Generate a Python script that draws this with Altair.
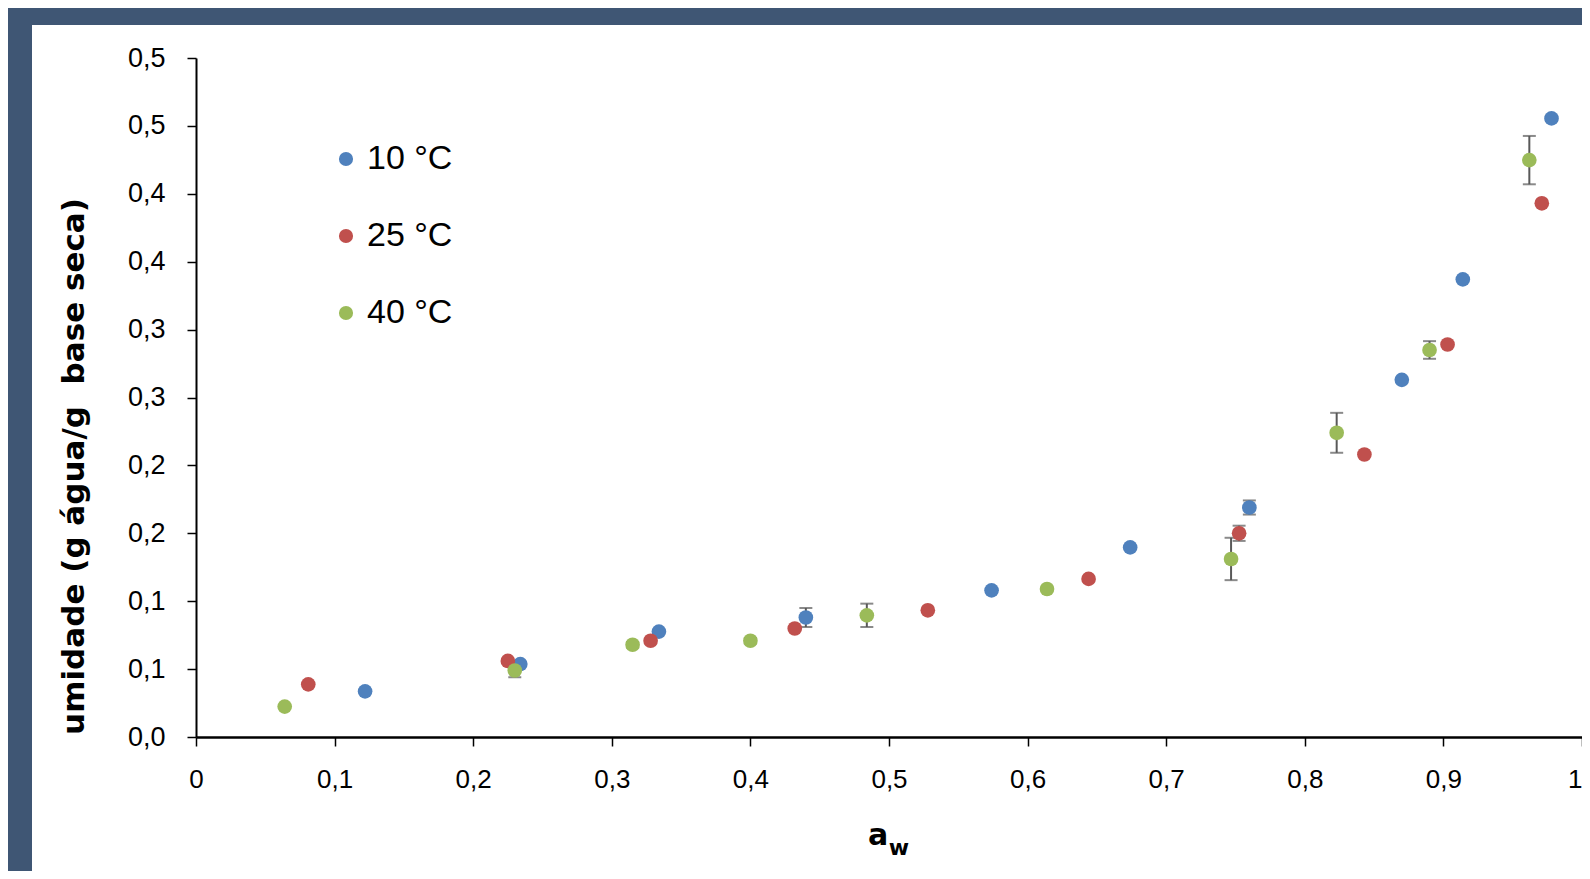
import altair as alt
import pandas as pd

series = ["10 °C", "25 °C", "40 °C"]
colors = ["#4F81BD", "#C0504D", "#9BBB59"]

aw_10 = [0.122, 0.234, 0.334, 0.440, 0.574, 0.674, 0.760, 0.870, 0.914, 0.978]
u_10 = [0.0336, 0.0537, 0.0776, 0.088, 0.108, 0.1396, 0.169, 0.263, 0.337, 0.4555]
err_10 = [0, 0, 0, 0.007, 0, 0, 0.0052, 0, 0, 0.002]

aw_25 = [0.081, 0.225, 0.328, 0.432, 0.528, 0.644, 0.7526, 0.843, 0.903, 0.971]
u_25 = [0.0388, 0.056, 0.0709, 0.0799, 0.0933, 0.1164, 0.150, 0.208, 0.289, 0.393]
err_25 = [0, 0, 0, 0, 0, 0, 0.0056, 0, 0, 0]

aw_40 = [0.064, 0.230, 0.315, 0.400, 0.484, 0.614, 0.7468, 0.823, 0.890, 0.962]
u_40 = [0.0224, 0.049, 0.0679, 0.0709, 0.0896, 0.109, 0.1311, 0.224, 0.285, 0.4248]
err_40 = [0, 0.005, 0.002, 0.002, 0.0086, 0, 0.0156, 0.0147, 0.0065, 0.0178]

x_ticks = [0, 0.1, 0.2, 0.3, 0.4, 0.5, 0.6, 0.7, 0.8, 0.9, 1]
y_ticks = [0, 0.05, 0.1, 0.15, 0.2, 0.25, 0.3, 0.35, 0.4, 0.45, 0.5]

rows = []
for name, xs, ys, es in [(series[0], aw_10, u_10, err_10),
                         (series[1], aw_25, u_25, err_25),
                         (series[2], aw_40, u_40, err_40)]:
    for x, y, e in zip(xs, ys, es):
        rows.append({"serie": name, "aw": x, "u": y, "lo": y - e, "hi": y + e, "e": e})
df = pd.DataFrame(rows)
df_err = df[df["e"] > 0]

W, H = 1386, 679
PAD_L, PAD_T = 188, 50
SVG_W, SVG_H = 1574, 863

xscale = alt.Scale(domain=[0, 1], nice=False, zero=False)
yscale = alt.Scale(domain=[0, 0.5], nice=False, zero=False)

bg = alt.Chart(pd.DataFrame({"k": [0]})).mark_rect(color="white", clip=False).encode(
    x=alt.value(-164), x2=alt.value(1500), y=alt.value(-33), y2=alt.value(900)
)

x_axis = alt.Axis(
    values=x_ticks, labelExpr="replace(format(datum.value, '.1~f'), '.', ',')",
    labelAlign={"condition": {"test": "datum.value >= 1", "value": "right"}, "value": "center"},
    title=None, tickSize=9, labelPadding=20, labelFontSize=26, labelFont="Liberation Sans",
    labelColor="black", domainColor="black", domainWidth=2.5, tickColor="black", tickWidth=1.5,
    grid=False, labelFlush=False, labelOverlap=False, zindex=1,
)
y_axis = alt.Axis(
    values=y_ticks, labelExpr="replace(format(round(datum.value*10+0.001)/10, '.1f'), '.', ',')",
    title="umidade (g água/g\u00a0 base seca)", titleFont="DejaVu Sans", titleFontSize=31,
    titleFontWeight="bold", titleColor="black", titleX=-122, titleY=408, titleAngle=270,
    titleAlign="center", titleBaseline="middle",
    tickSize=9, labelPadding=22, labelFontSize=27, labelFont="Liberation Sans",
    labelColor="black", domainColor="black", domainWidth=2, tickColor="black", tickWidth=1.5,
    grid=False, labelFlush=False, labelOverlap=False, zindex=1,
)

rules = alt.Chart(df_err).mark_rule(color="#595959", strokeWidth=2).encode(
    x=alt.X("aw:Q", scale=xscale, axis=x_axis),
    y=alt.Y("lo:Q", scale=yscale, axis=y_axis),
    y2="hi:Q",
)
caps_lo = alt.Chart(df_err).mark_tick(color="#595959", orient="horizontal", size=13, thickness=2).encode(
    x=alt.X("aw:Q", scale=xscale), y=alt.Y("lo:Q", scale=yscale)
)
caps_hi = alt.Chart(df_err).mark_tick(color="#595959", orient="horizontal", size=13, thickness=2).encode(
    x=alt.X("aw:Q", scale=xscale), y=alt.Y("hi:Q", scale=yscale)
)

points = alt.Chart(df).mark_circle(size=215, opacity=1).encode(
    x=alt.X("aw:Q", scale=xscale),
    y=alt.Y("u:Q", scale=yscale),
    color=alt.Color(
        "serie:N",
        scale=alt.Scale(domain=series, range=colors),
        legend=alt.Legend(
            title=None, orient="none", legendX=133, legendY=84,
            labelFontSize=34, labelFont="Liberation Sans", labelColor="black",
            symbolType="circle", symbolSize=200, symbolStrokeWidth=0,
            rowPadding=43, labelOffset=4, padding=0,
        ),
    ),
    order=alt.Order("serie:N"),
)

t_a = alt.Chart(pd.DataFrame({"t": ["a"]})).mark_text(
    font="DejaVu Sans", fontWeight="bold", fontSize=30, color="black",
    align="center", baseline="middle", clip=False
).encode(x=alt.value(682), y=alt.value(778), text="t:N")
t_w = alt.Chart(pd.DataFrame({"t": ["w"]})).mark_text(
    font="DejaVu Sans", fontWeight="bold", fontSize=22, color="black",
    align="center", baseline="middle", clip=False
).encode(x=alt.value(703), y=alt.value(790), text="t:N")

chart = alt.layer(bg, rules, caps_lo, caps_hi, points, t_a, t_w).properties(
    width=W, height=H,
    autosize=alt.AutoSizeParams(type="none"),
    padding={"left": PAD_L, "top": PAD_T, "right": SVG_W - PAD_L - W, "bottom": SVG_H - PAD_T - H},
).configure(background="#3F5674").configure_view(stroke=None)

chart.save("out.html", embed_options={"renderer": "svg", "actions": False})
